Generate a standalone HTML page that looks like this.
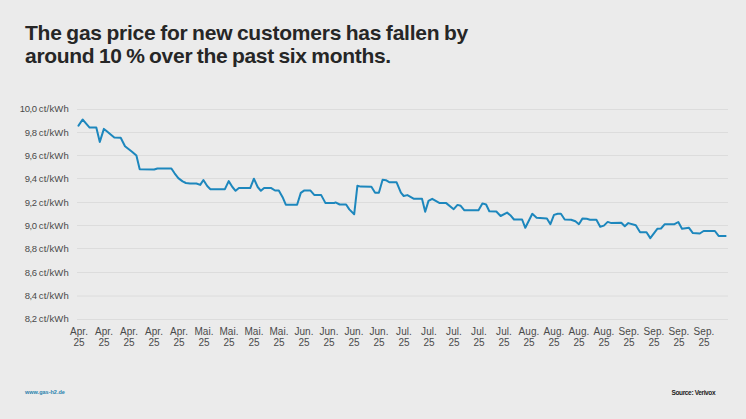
<!DOCTYPE html>
<html><head><meta charset="utf-8">
<style>
html,body{margin:0;padding:0;}
body{width:746px;height:419px;background:#ebebeb;position:relative;overflow:hidden;font-family:"Liberation Sans",sans-serif;}
.title{position:absolute;left:25px;top:21px;font-weight:bold;font-size:21px;line-height:23.4px;color:#262626;letter-spacing:-0.22px;word-spacing:-1px;white-space:nowrap;}
.yl{position:absolute;right:677px;font-size:9.5px;line-height:12px;color:#4a4a4a;letter-spacing:0.2px;word-spacing:-0.6px;white-space:nowrap;text-align:right;}
.xl{position:absolute;top:325.6px;width:30px;text-align:center;font-size:10px;line-height:11.5px;color:#4a4a4a;letter-spacing:0.05px;white-space:nowrap;}
svg{position:absolute;left:0;top:0;}
.n{letter-spacing:-0.45px;}
.grid line{stroke:#dcdcdc;stroke-width:1;}
.foot1{position:absolute;left:25px;top:389px;font-size:5.5px;font-weight:bold;color:#2a82ad;white-space:nowrap;}
.foot2{position:absolute;left:671.5px;top:388.5px;font-size:6.5px;font-weight:bold;color:#222;letter-spacing:-0.36px;white-space:nowrap;}
</style></head><body>
<div class="title">The gas price for new customers has fallen by<br><span style="letter-spacing:-0.3px">around 10 % over the past six months.</span></div>
<div class="yl" style="top:103.20px"><span class="n">10,0</span> ct/kWh</div><div class="yl" style="top:126.54px"><span class="n">9,8</span> ct/kWh</div><div class="yl" style="top:149.88px"><span class="n">9,6</span> ct/kWh</div><div class="yl" style="top:173.22px"><span class="n">9,4</span> ct/kWh</div><div class="yl" style="top:196.56px"><span class="n">9,2</span> ct/kWh</div><div class="yl" style="top:219.90px"><span class="n">9,0</span> ct/kWh</div><div class="yl" style="top:243.24px"><span class="n">8,8</span> ct/kWh</div><div class="yl" style="top:266.58px"><span class="n">8,6</span> ct/kWh</div><div class="yl" style="top:289.92px"><span class="n">8,4</span> ct/kWh</div><div class="yl" style="top:313.26px"><span class="n">8,2</span> ct/kWh</div>
<svg width="746" height="419" viewBox="0 0 746 419">
<g class="grid"><line x1="77" x2="728" y1="109.5" y2="109.5"/><line x1="77" x2="728" y1="132.5" y2="132.5"/><line x1="77" x2="728" y1="155.5" y2="155.5"/><line x1="77" x2="728" y1="178.5" y2="178.5"/><line x1="77" x2="728" y1="202.5" y2="202.5"/><line x1="77" x2="728" y1="225.5" y2="225.5"/><line x1="77" x2="728" y1="248.5" y2="248.5"/><line x1="77" x2="728" y1="272.5" y2="272.5"/><line x1="77" x2="728" y1="296" y2="296"/><line x1="77" x2="728" y1="319.5" y2="319.5"/></g>
<path d="M78.5,125.6 L82.6,119.5 L85.3,122.7 L89.6,127.6 L96.3,127.6 L99.8,141.9 L103.9,128.9 L106.2,130.8 L114.3,137.5 L120.7,137.8 L125,146.2 L132,151.7 L136.4,155.6 L139.7,169.2 L154.2,169.5 L157.4,168.5 L171.4,168.5 L174.6,173.3 L178.3,178.1 L182.6,181.4 L185.9,183 L190,183.5 L196.4,183.5 L200.2,184.9 L203.4,180 L207.2,186 L210.4,189.2 L224.9,189.2 L228.7,181.1 L232.4,187 L235.6,190.8 L238.9,188.1 L250.2,188.1 L253.9,178.7 L257.7,187 L260.9,190.8 L264.1,188.1 L271.3,188.1 L275,190.5 L278.8,190.5 L282.6,197.2 L285.8,204.7 L297.1,204.7 L300.8,192.9 L304,190.6 L310.5,190.6 L314.2,194.9 L321.2,195.1 L325.5,203.1 L334.1,203.1 L335.5,202.4 L339.7,204.5 L346.1,204.5 L349.3,209.4 L354.2,214.2 L357.4,185.7 L360.6,186.6 L371.4,186.8 L375.1,192.7 L378.9,192.7 L382.6,179.8 L385.9,180.2 L389.6,182.3 L396.6,182.3 L400.9,192.7 L403.7,196 L407.4,195.1 L414,198.8 L422,198.8 L425.2,211.7 L428.5,200.9 L432.2,198.8 L439.7,203.1 L446.2,203.1 L453.7,209.2 L457.5,204.9 L460.7,205.8 L464.4,210.3 L478.5,210.2 L482.4,203.4 L486.1,204.5 L489.3,211.3 L496.3,211.5 L500.6,216 L507.1,212.6 L510.3,215.2 L514,219.5 L522.1,219.5 L525.3,227.8 L532.3,213.8 L536.6,217.7 L546.9,218.4 L550.4,224.2 L554,214.9 L557.7,213.8 L560.9,213.8 L564.7,219.5 L571.1,219.7 L575.4,221.3 L578.9,224.2 L582.4,218.6 L586.7,218.8 L590,219.7 L596.4,219.7 L600.2,226.7 L603.9,225.6 L607.7,221.9 L611.4,223.1 L621.3,222.8 L624.8,226.3 L628.3,223.1 L635.8,225.2 L640.1,232.2 L646.5,232.2 L650.3,238.1 L657.3,228.8 L661,228.5 L664.8,224.2 L674.5,224.2 L678.3,222 L682,228.8 L689,227.8 L692.9,233.1 L699.8,233.5 L703.6,231 L714.9,231 L718.6,235.9 L725.6,235.9" fill="none" stroke="#1d87bd" stroke-width="2" stroke-linejoin="round" stroke-linecap="round"/>
</svg>
<div class="xl" style="left:64px">Apr.<br>25</div><div class="xl" style="left:89px">Apr.<br>25</div><div class="xl" style="left:114px">Apr.<br>25</div><div class="xl" style="left:139px">Apr.<br>25</div><div class="xl" style="left:164px">Apr.<br>25</div><div class="xl" style="left:189px">Mai.<br>25</div><div class="xl" style="left:214px">Mai.<br>25</div><div class="xl" style="left:239px">Mai.<br>25</div><div class="xl" style="left:264px">Mai.<br>25</div><div class="xl" style="left:289px">Jun.<br>25</div><div class="xl" style="left:314px">Jun.<br>25</div><div class="xl" style="left:339px">Jun.<br>25</div><div class="xl" style="left:364px">Jun.<br>25</div><div class="xl" style="left:389px">Jul.<br>25</div><div class="xl" style="left:414px">Jul.<br>25</div><div class="xl" style="left:439px">Jul.<br>25</div><div class="xl" style="left:464px">Jul.<br>25</div><div class="xl" style="left:489px">Jul.<br>25</div><div class="xl" style="left:514px">Aug.<br>25</div><div class="xl" style="left:539px">Aug.<br>25</div><div class="xl" style="left:564px">Aug.<br>25</div><div class="xl" style="left:589px">Aug.<br>25</div><div class="xl" style="left:614px">Sep.<br>25</div><div class="xl" style="left:639px">Sep.<br>25</div><div class="xl" style="left:664px">Sep.<br>25</div><div class="xl" style="left:689px">Sep.<br>25</div>
<div class="foot1">www.gas-h2.de</div>
<div class="foot2">Source: Verivox</div>
</body></html>
